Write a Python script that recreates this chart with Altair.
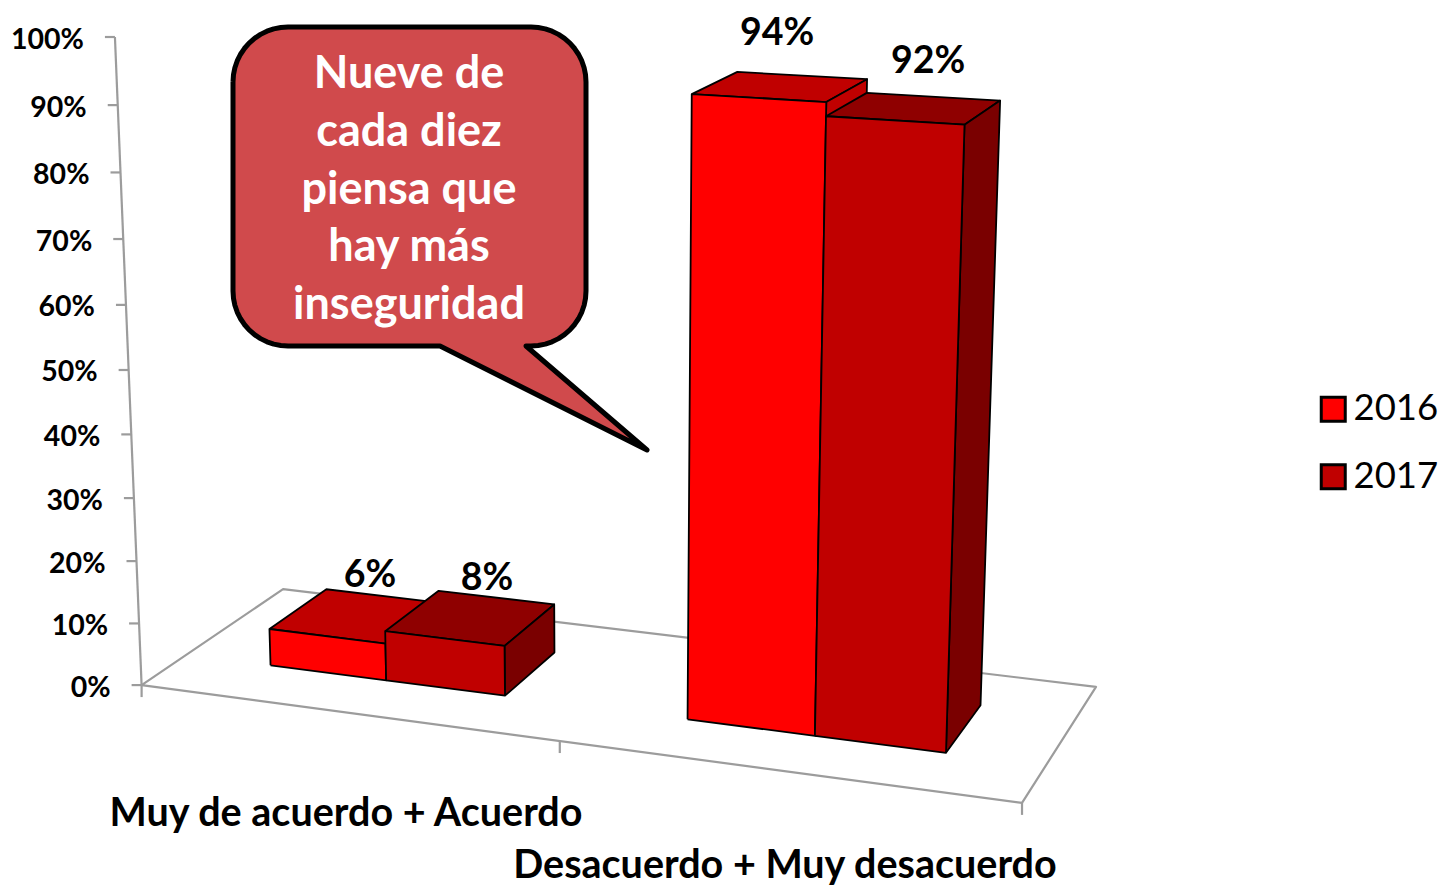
import numpy as np
import pandas as pd
import altair as alt

# ---- chart values ----
categories = ["Muy de acuerdo + Acuerdo", "Desacuerdo + Muy desacuerdo"]
series = ["2016", "2017"]
values_2016 = [6, 94]
values_2017 = [8, 92]
tick_values = [0, 10, 20, 30, 40, 50, 60, 70, 80, 90, 100]
callout_lines = ["Nueve de", "cada diez", "piensa que", "hay más", "inseguridad"]

# ---- data labels / category label placement ----
value_label_x = [370, 487, 777, 928]
value_label_y = [576, 579, 34, 62]
category_label_x = [346, 785]
category_label_y = [814, 866]

# ---- colours ----
FRONT = {"2016": "#FF0000", "2017": "#C00000"}
TOP = {"2016": "#C00000", "2017": "#8F0000"}
SIDE = {"2016": "#C00000", "2017": "#7A0000"}
GREY = "#9C9C9C"
FONT = "Lato"

# ---- 3D view: (category position, depth, share) -> picture position ----
calib_world = [(0, 0, 0), (1, 0, 0), (0, 1, 0), (1, 1, 0), (0, 0, 1), (0, 0, .5),
               (.8935, .3, .92), (.607, .3, .94), (.75, .3, .92)]
calib_view = [(142, 685), (1022, 803), (283, 589), (1096, 687), (115, 37), (128, 370),
              (964, 124), (693, 95), (826, 116)]
A, b = [], []
for (u, v, z), (x, y) in zip(calib_world, calib_view):
    A.append([u, v, z, 1, 0, 0, 0, 0, -x * u, -x * v, -x * z]); b.append(x)
    A.append([0, 0, 0, 0, u, v, z, 1, -y * u, -y * v, -y * z]); b.append(y)
m = np.linalg.lstsq(np.array(A, float), np.array(b, float), rcond=None)[0]
P = np.array([*m, 1.0]).reshape(3, 4)


def view(u, v, z):
    r = P @ np.array([u, v, z, 1.0])
    return float(r[0] / r[2]), float(r[1] / r[2])


PLOT_W, PLOT_H = 1431, 880
xs = alt.Scale(domain=[8, 8 + PLOT_W], range=[0, PLOT_W], nice=False, zero=False)
ys = alt.Scale(domain=[8, 8 + PLOT_H], range=[0, PLOT_H], nice=False, zero=False)
X = alt.X("x:Q", scale=xs, axis=None)
Y = alt.Y("y:Q", scale=ys, axis=None)


def frame(points):
    return pd.DataFrame({"x": [p[0] for p in points], "y": [p[1] for p in points],
                         "i": range(len(points))})


def polygon(points, fill, stroke="black", width=1.8):
    pts = list(points) + [points[0]]
    return alt.Chart(frame(pts)).mark_line(fill=fill, stroke=stroke, strokeWidth=width,
                                           strokeJoin="round", interpolate="linear").encode(
        x=X, y=Y, order="i:Q")


def path(points, stroke=GREY, width=2.2):
    return alt.Chart(frame(points)).mark_line(stroke=stroke, strokeWidth=width,
                                              interpolate="linear").encode(x=X, y=Y, order="i:Q")


layers = []
# floor and axis wall edge
layers.append(polygon([view(0, 0, 0), view(1, 0, 0), view(1, 1, 0), view(0, 1, 0)], "white", GREY, 2.2))
layers.append(path([view(0, 0, 0), view(0, 0, 1)]))
for t in tick_values:
    x, y = view(0, 0, t / 100)
    layers.append(path([(x - 10, y), (x, y)]))
for u in [0, .5, 1]:
    x, y = view(u, 0, 0)
    layers.append(path([(x, y), (x, y + 12)]))

# bars
centers = [0.25, 0.75]
half = 0.1435
v0, v1 = 0.30, 0.72
for c, (a16, a17) in enumerate(zip(values_2016, values_2017)):
    for s, val in zip(series, (a16, a17)):
        u0 = centers[c] - half if s == "2016" else centers[c]
        u1 = centers[c] if s == "2016" else centers[c] + half
        z = val / 100
        layers.append(polygon([view(u0, v0, z), view(u0, v1, z), view(u1, v1, z), view(u1, v0, z)], TOP[s]))
        layers.append(polygon([view(u1, v0, 0), view(u1, v1, 0), view(u1, v1, z), view(u1, v0, z)], SIDE[s]))
        face = frame([view(u0, v0, 0), view(u1, v0, 0), view(u1, v0, z), view(u0, v0, z), view(u0, v0, 0)])
        face["series"] = s
        layers.append(alt.Chart(face).mark_line(stroke="black", strokeWidth=1.8, strokeJoin="round").encode(
            x=X, y=Y, order="i:Q",
            fill=alt.Fill("series:N",
                          scale=alt.Scale(domain=series, range=[FRONT[k] for k in series]),
                          legend=alt.Legend(title=None, orient="none", legendX=1307, legendY=383,
                                            padding=0,
                                            symbolType="square", symbolSize=576,
                                            symbolStrokeColor="black", symbolStrokeWidth=3,
                                            labelFont=FONT, labelFontSize=36.5, labelColor="black",
                                            labelOffset=2, rowPadding=30.5, labelLimit=200,
                                            symbolOpacity=1))))

# callout
L, R, T, B, rad = 233, 586, 27, 346, 55
def arc(cx, cy, a0, a1):
    return [(cx + rad * np.cos(np.radians(a)), cy + rad * np.sin(np.radians(a)))
            for a in np.linspace(a0, a1, 13)]
bubble = arc(L + rad, T + rad, 180, 270) + arc(R - rad, T + rad, 270, 360) + arc(R - rad, B - rad, 0, 90) + \
    [(526, B), (647, 450), (440, B)] + arc(L + rad, B - rad, 90, 180)
layers.append(polygon(bubble, "#D04A4C", "black", 5))

def text_layer(xv, yv, labels, size, color="black", weight="bold", align="center"):
    d = pd.DataFrame({"x": xv, "y": yv, "t": labels})
    return alt.Chart(d).mark_text(font=FONT, fontSize=size, fontWeight=weight, color=color,
                                  align=align, baseline="middle").encode(x=X, y=Y, text="t:N")

layers.append(text_layer([409] * 5, [74, 132, 190, 247, 305], callout_lines, 45, "white"))
layers.append(text_layer(value_label_x, value_label_y, ["6%", "8%", "94%", "92%"], 37.5))
layers.append(text_layer(category_label_x, category_label_y, categories, 39.5))
tx = [view(0, 0, t / 100)[0] - 31 for t in tick_values]
ty = [view(0, 0, t / 100)[1] + 2.5 for t in tick_values]
layers.append(text_layer(tx, ty, [f"{t}%" for t in tick_values], 28.5, align="right"))

chart = alt.layer(*layers).properties(
    width=PLOT_W, height=PLOT_H, padding=0,
    autosize=alt.AutoSizeParams(type="none", contains="padding")).resolve_scale(
    x="shared", y="shared", fill="shared").configure_view(stroke=None)
chart.save("out.html", embed_options={"renderer": "svg", "actions": False})
